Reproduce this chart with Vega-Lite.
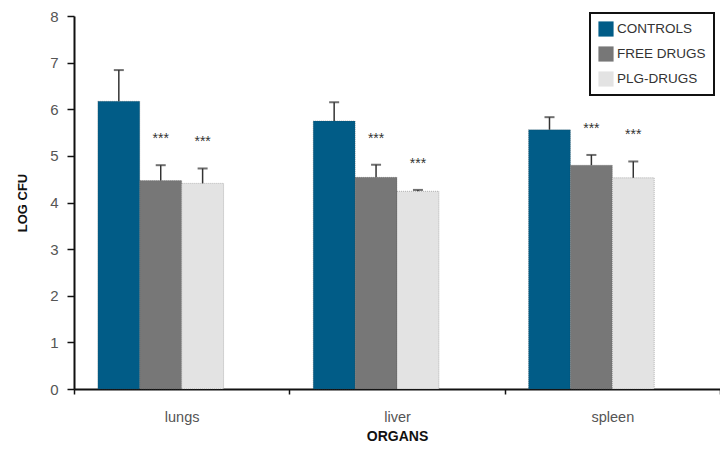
{
  "$schema": "https://vega.github.io/schema/vega-lite/v6.json",
  "width": 646,
  "height": 373,
  "padding": {"left": 74, "top": 16, "right": 0, "bottom": 61},
  "autosize": {"type": "none"},
  "background": "white",
  "config": {
    "font": "Liberation Sans",
    "view": {"stroke": null},
    "legend": {"strokeColor": "#111", "strokeWidth": 2}
  },
  "data": {
    "values": [
      {"organ": "lungs", "group": "CONTROLS", "mean": 6.17, "upper": 6.84, "sig": ""},
      {"organ": "lungs", "group": "FREE DRUGS", "mean": 4.47, "upper": 4.8, "sig": "***"},
      {"organ": "lungs", "group": "PLG-DRUGS", "mean": 4.41, "upper": 4.73, "sig": "***"},
      {"organ": "liver", "group": "CONTROLS", "mean": 5.75, "upper": 6.15, "sig": ""},
      {"organ": "liver", "group": "FREE DRUGS", "mean": 4.54, "upper": 4.81, "sig": "***"},
      {"organ": "liver", "group": "PLG-DRUGS", "mean": 4.24, "upper": 4.27, "sig": "***"},
      {"organ": "spleen", "group": "CONTROLS", "mean": 5.56, "upper": 5.83, "sig": ""},
      {"organ": "spleen", "group": "FREE DRUGS", "mean": 4.8, "upper": 5.02, "sig": "***"},
      {"organ": "spleen", "group": "PLG-DRUGS", "mean": 4.53, "upper": 4.88, "sig": "***"}
    ]
  },
  "encoding": {
    "x": {
      "field": "organ",
      "type": "nominal",
      "sort": ["lungs", "liver", "spleen"],
      "scale": {"paddingInner": 0, "paddingOuter": 0},
      "axis": {
        "title": "ORGANS",
        "titleFontSize": 14,
        "titleFontWeight": "bold",
        "titleColor": "#111",
        "titlePadding": 6,
        "labelAngle": 0,
        "labelFontSize": 14.5,
        "labelColor": "#555",
        "labelPadding": 16,
        "domainColor": "#111",
        "domainWidth": 2,
        "tickBand": "extent",
        "tickColor": "#111",
        "tickSize": 5,
        "tickWidth": 1.5
      }
    },
    "xOffset": {
      "field": "group",
      "type": "nominal",
      "scale": {"domain": ["CONTROLS", "FREE DRUGS", "PLG-DRUGS", "_"], "paddingInner": 0, "paddingOuter": 0.57}
    }
  },
  "layer": [
    {
      "mark": {"type": "bar", "stroke": "#444", "strokeWidth": 0.7, "strokeDash": [1, 1], "strokeOpacity": 0.5},
      "encoding": {
        "y": {
          "field": "mean",
          "type": "quantitative",
          "scale": {"domain": [0, 8], "nice": false},
          "axis": {
            "title": "LOG CFU",
            "titleFontSize": 13,
            "titleFontWeight": "bold",
            "titleColor": "#111",
            "titlePadding": 20,
            "values": [0, 1, 2, 3, 4, 5, 6, 7, 8],
            "labelFontSize": 15,
            "labelColor": "#555",
            "labelPadding": 9,
            "grid": false,
            "domainColor": "#111",
            "domainWidth": 2,
            "tickColor": "#111",
            "tickSize": 7,
            "tickWidth": 1.5
          }
        },
        "color": {
          "field": "group",
          "type": "nominal",
          "scale": {"domain": ["CONTROLS", "FREE DRUGS", "PLG-DRUGS"], "range": ["#015c87", "#777777", "#e3e3e3"]},
          "legend": {
            "title": null,
            "orient": "none",
            "legendX": 516,
            "legendY": -3,
            "padding": 8,
            "symbolType": "square",
            "symbolSize": 230,
            "symbolStrokeWidth": 0,
            "symbolOpacity": 1,
            "labelFontSize": 13.5,
            "labelColor": "#333",
            "labelOffset": 3,
            "rowPadding": 9,
            "fillColor": "white"
          }
        }
      }
    },
    {
      "mark": {"type": "rule", "color": "#333", "strokeWidth": 1.5},
      "encoding": {
        "y": {"field": "mean", "type": "quantitative"},
        "y2": {"field": "upper"}
      }
    },
    {
      "mark": {"type": "tick", "color": "#333", "thickness": 2, "size": 10},
      "encoding": {
        "y": {"field": "upper", "type": "quantitative"}
      }
    },
    {
      "mark": {"type": "text", "fontSize": 14, "color": "#333", "baseline": "middle", "dy": -26},
      "encoding": {
        "y": {"field": "upper", "type": "quantitative"},
        "text": {"field": "sig"}
      }
    }
  ]
}
